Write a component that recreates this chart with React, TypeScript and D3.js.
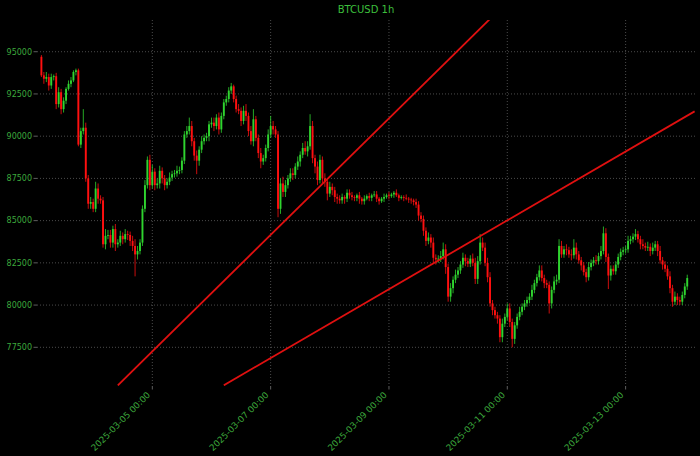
import React from "react";
import * as d3 from "d3";

const TITLE = "BTCUSD 1h";
const START = "2025-03-03T03:00:00Z";
const FIRST_OPEN = 94.7;
// hourly closes, in thousands of USD
const CLOSES = [
  93.6, 93.4, 93.5, 93.0, 93.5, 93.55, 91.9, 92.6, 91.6, 92.1,
  92.8, 93.1, 93.3, 93.8, 93.9, 89.5, 90.3, 90.5, 87.5, 86.0,
  86.1, 85.7, 86.9, 86.3, 86.2, 83.6, 84.1, 84.15, 83.7, 84.5,
  83.6, 83.7, 84.1, 83.9, 84.2, 84.15, 83.8, 83.5, 83.0, 83.2,
  83.7, 85.7, 87.1, 88.6, 87.1, 87.9, 87.1, 87.2, 87.95, 87.5,
  87.1, 87.3, 87.55, 87.75, 87.8, 87.95, 88.0, 88.55, 90.1, 90.3,
  90.6, 89.7, 88.85, 88.55, 89.2, 89.7, 89.9, 90.0, 90.7, 90.8,
  90.6, 91.1, 90.4, 91.2, 92.0, 92.2, 92.7, 92.95, 92.2, 91.6,
  91.5, 90.9, 91.5, 91.2, 90.3, 89.7, 91.0, 89.9, 89.0, 88.5,
  88.7, 89.3, 90.1, 90.6, 90.4, 90.1, 85.7, 87.2, 86.7, 87.1,
  87.5, 87.8, 87.7, 88.2, 88.5, 88.9, 89.3, 89.1, 89.4, 90.6,
  88.7, 88.2, 87.4, 88.6, 87.5, 87.3, 86.6, 87.0, 86.8, 86.4,
  86.3, 86.2, 86.4, 86.3, 86.65, 86.5, 86.4, 86.35, 86.5, 86.3,
  86.15, 86.3, 86.45, 86.35, 86.5, 86.55, 86.3, 86.15, 86.3, 86.4,
  86.5, 86.45, 86.55, 86.65, 86.5, 86.35, 86.4, 86.35, 86.3, 86.25,
  86.2, 86.1, 85.95, 85.3, 85.1, 84.4, 83.8, 84.0, 83.7, 82.8,
  82.7, 82.75, 82.9, 83.3, 82.25, 80.5, 81.0, 81.5, 81.8, 82.05,
  82.4, 82.8, 82.6, 82.45, 82.75, 82.5, 81.55, 82.6, 83.7, 83.4,
  82.5, 81.65, 80.1, 79.7, 79.4, 79.2, 78.1, 78.9, 79.3, 79.8,
  79.0, 78.0, 78.8, 79.3, 79.6, 79.9, 80.1, 80.3, 80.5, 80.9,
  81.3, 81.65, 82.05, 81.6, 81.3, 81.2, 80.1, 80.9, 81.4, 81.5,
  83.5, 83.0, 83.3, 83.25, 83.0, 82.95, 83.4, 83.0, 82.65, 82.35,
  81.95, 81.65, 82.25, 82.5, 82.65, 82.6, 82.9, 83.2, 84.25, 82.85,
  81.75, 82.15, 82.0, 82.4, 82.85, 83.15, 83.25, 83.3, 83.8, 83.9,
  84.05, 84.2, 83.9, 83.6, 83.5, 83.4, 83.45, 83.2, 83.4, 83.6,
  83.2, 82.65, 82.4, 82.15, 81.7, 81.0, 80.2, 80.5, 80.3, 80.2,
  80.6, 81.1, 81.6,
];
// upper wick length above body, thousands
const UP_WICKS = [
  .1, .2, .3, .2, .2, .1, .2, .3, .2, .2,
  .1, .2, .2, .1, .1, .1, .2, 1.1, .3, .2,
  .3, .2, .4, .3, .2, .2, .4, .3, .3, .2,
  .3, .2, .3, .2, .3, .2, .2, .3, .4, .3,
  .2, .2, .3, .2, .3, .4, .2, .3, .3, .2,
  .2, .2, .3, .2, .2, .3, .2, .2, .2, .3,
  .5, .3, .2, .3, .2, .3, .2, .2, .2, .3,
  .3, .2, .3, .2, .2, .2, .2, .2, .1, .2,
  .3, .2, .3, .4, .2, .3, .6, .2, .2, .3,
  .2, .2, .3, .6, .3, .2, .2, .3, .4, .3,
  .2, .3, .3, .2, .3, .2, .3, .4, .3, .7,
  .3, .2, .3, .3, .2, .3, .2, .3, .2, .2,
  .2, .2, .2, .1, .2, .2, .2, .1, .1, .2,
  .1, .2, .1, .2, .1, .2, .2, .1, .1, .2,
  .1, .2, .1, .1, .2, .1, .1, .1, .2, .1,
  .1, .1, .2, .2, .2, .2, .2, .3, .2, .3,
  .2, .2, .3, .4, .3, .2, .3, .2, .3, .2,
  .2, .3, .2, .2, .2, .3, .3, .3, .5, .3,
  .3, .3, .3, .2, .2, .2, .2, .3, .2, .3,
  .3, .2, .2, .2, .3, .2, .2, .2, .2, .3,
  .2, .2, .3, .3, .2, .2, .2, .2, .3, .3,
  .4, .3, .2, .3, .2, .3, .5, .3, .2, .2,
  .2, .2, .3, .2, .2, .3, .2, .3, .4, .3,
  .2, .2, .2, .2, .2, .2, .2, .2, .3, .2,
  .2, .3, .2, .2, .3, .2, .3, .2, .3, .2,
  .2, .3, .2, .2, .2, .3, .2, .3, .2, .2,
  .2, .2, .2,
];
// lower wick length below body, thousands
const DOWN_WICKS = [
  .1, .3, .2, .3, .2, .2, .3, .2, .3, .2,
  .2, .1, .2, .1, .2, .1, .2, .2, .2, .3,
  .3, .2, .2, .3, .2, .2, .3, .2, .3, .3,
  .4, .2, .2, .3, .2, .3, .3, .3, 1.3, .3,
  .2, .2, .2, .2, .3, .2, .3, .2, .3, .3,
  .3, .2, .2, .2, .2, .2, .2, .2, .2, .2,
  .2, .3, .3, .8, .3, .2, .2, .2, .3, .2,
  .3, .2, .3, .2, .2, .2, .2, .2, .2, .2,
  .2, .3, .2, .3, .3, .2, .3, .2, .3, .4,
  .2, .2, .2, .2, .3, .2, .5, .3, .3, .3,
  .2, .2, .3, .2, .2, .3, .2, .2, .3, .2,
  .3, .4, .3, .2, .3, .3, .4, .2, .3, .3,
  .3, .2, .2, .3, .2, .2, .2, .2, .2, .3,
  .2, .2, .1, .2, .2, .1, .2, .2, .1, .2,
  .1, .2, .1, .2, .1, .2, .1, .2, .1, .2,
  .2, .2, .2, .3, .2, .3, .3, .2, .3, .3,
  .3, .2, .2, .2, .4, .3, .3, .3, .2, .2,
  .2, .2, .3, .2, .2, .2, .3, .3, .2, .2,
  .2, .3, .2, .3, .2, .3, .3, .3, .2, .2,
  .3, .5, .3, .2, .2, .2, .2, .2, .2, .2,
  .2, .2, .2, .2, .3, .2, .6, .3, .2, .2,
  .2, .2, .2, .3, .2, .3, .2, .3, .2, .3,
  .2, .3, .2, .2, .2, .2, .2, .2, .2, .3,
  .8, .3, .2, .2, .2, .2, .2, .2, .2, .2,
  .2, .2, .2, .3, .2, .2, .2, .3, .2, .2,
  .3, .2, .3, .2, .2, .3, .3, .2, .3, .2,
  .2, .2, .2,
];
const Y_TICKS = [77500, 80000, 82500, 85000, 87500, 90000, 92500, 95000];
const X_TICKS = [
  "2025-03-05T00:00:00Z",
  "2025-03-07T00:00:00Z",
  "2025-03-09T00:00:00Z",
  "2025-03-11T00:00:00Z",
  "2025-03-13T00:00:00Z",
];
const TREND_LINE_1: [string, number][] = [["2025-03-04T10:00:00Z", 75245], ["2025-03-10T17:00:00Z", 96945]];
const TREND_LINE_2: [string, number][] = [["2025-03-06T05:00:00Z", 75250], ["2025-03-14T04:00:00Z", 91470]];

const W = 700, H = 456;
const PL = 37, PR = 695, PT = 20, PB = 386;
const HOUR = 3600 * 1000;
const UP = "#2fd42f";
const DOWN = "#ff1010";
const FONT = "DejaVu Sans, sans-serif";

export default function App() {
  const t0 = new Date(START).getTime();
  const x = d3.scaleUtc()
    .domain([new Date(t0 - 1.785 * HOUR), new Date(t0 + 265.15 * HOUR)])
    .range([PL, PR]);
  const y = d3.scaleLinear().domain([75209, 96878]).range([PB, PT]);
  const fmt = d3.utcFormat("%Y-%m-%d %H:%M");

  const candles = CLOSES.map((c, i) => {
    const open = (i === 0 ? FIRST_OPEN : CLOSES[i - 1]) * 1000;
    const close = c * 1000;
    const high = Math.max(open, close) + UP_WICKS[i] * 1000;
    const low = Math.min(open, close) - DOWN_WICKS[i] * 1000;
    return { t: new Date(t0 + i * HOUR), open, close, high, low };
  });
  const bw = 1.9;
  const line = d3.line<[string, number]>().x((d) => x(new Date(d[0]))).y((d) => y(d[1]));

  return (
    <svg width={W} height={H} style={{ position: "absolute", left: 0, top: 0, background: "#000" }}>
      <rect x={0} y={0} width={W} height={H} fill="#000" />
      <defs>
        <clipPath id="plot">
          <rect x={PL} y={PT} width={PR - PL} height={PB - PT} />
        </clipPath>
      </defs>
      <text x={(PL + PR) / 2} y={13} textAnchor="middle" fontFamily={FONT} fontSize={10} fill="#3cbf3c">
        {TITLE}
      </text>
      {Y_TICKS.map((v) => (
        <g key={v}>
          <line x1={PL} x2={PR} y1={y(v)} y2={y(v)} stroke="#5e5e5e" strokeWidth={0.8} strokeDasharray="1,2" />
          <line x1={PL - 3.5} x2={PL} y1={y(v)} y2={y(v)} stroke="#777" strokeWidth={0.8} />
          <text x={PL - 5} y={y(v)} dy="0.35em" textAnchor="end" fontFamily={FONT} fontSize={8} fill="#3ca83c">
            {d3.format("d")(v)}
          </text>
        </g>
      ))}
      {X_TICKS.map((s) => {
        const xv = x(new Date(s));
        return (
          <g key={s}>
            <line x1={xv} x2={xv} y1={PT} y2={PB} stroke="#5e5e5e" strokeWidth={0.8} strokeDasharray="1,2" />
            <line x1={xv} x2={xv} y1={PB} y2={PB + 3.5} stroke="#777" strokeWidth={0.8} />
            <text
              transform={`translate(${xv - 1.5},${PB + 9.5}) rotate(-45)`}
              textAnchor="end"
              fontFamily={FONT}
              fontSize={8.8}
              fill="#3ca83c"
            >
              {fmt(new Date(s))}
            </text>
          </g>
        );
      })}
      <g clipPath="url(#plot)">
        {candles.map((d, i) => {
          const col = d.close >= d.open ? UP : DOWN;
          const cx = x(d.t);
          const top = y(Math.max(d.open, d.close));
          const bot = y(Math.min(d.open, d.close));
          return (
            <g key={i}>
              <line x1={cx} x2={cx} y1={y(d.high)} y2={y(d.low)} stroke={col} strokeWidth={0.8} />
              <rect x={cx - bw / 2} y={top} width={bw} height={Math.max(0.8, bot - top)} fill={col} />
            </g>
          );
        })}
        <path d={line(TREND_LINE_1) || ""} stroke="#e01010" strokeWidth={1.8} fill="none" />
        <path d={line(TREND_LINE_2) || ""} stroke="#e01010" strokeWidth={1.8} fill="none" />
      </g>
    </svg>
  );
}
